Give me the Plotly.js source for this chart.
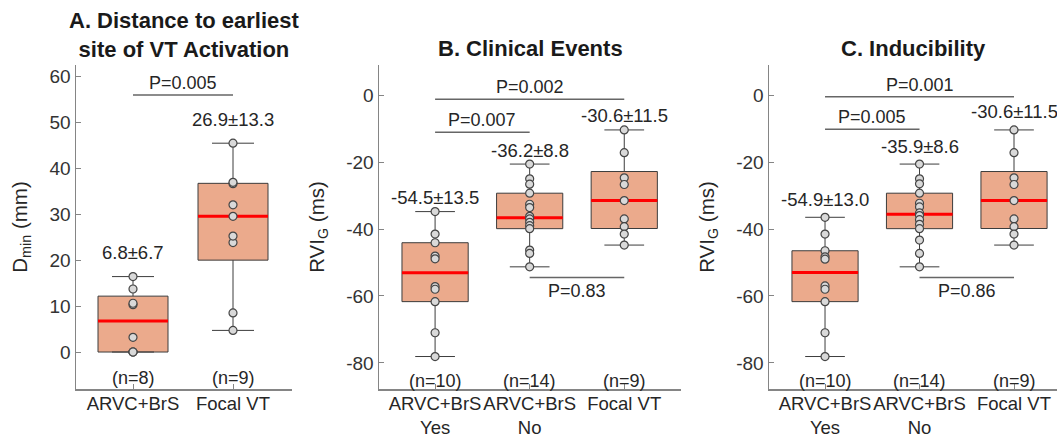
<!DOCTYPE html>
<html><head><meta charset="utf-8">
<script src="https://cdn.plot.ly/plotly-3.0.1.min.js"></script>
<style>html,body{margin:0;padding:0;background:#fff}</style>
</head><body><div id="chart" style="width:1057px;height:440px"></div>
<script>
// ---------------- data ----------------
const catsA = ['ARVC+BrS', 'Focal VT'];
const catsBC = ['ARVC+BrS<br>Yes', 'ARVC+BrS<br>No', 'Focal VT'];

const dminArvc  = [0, 0, 0, 3.2, 10.3, 10.6, 13.7, 16.4];
const dminFocal = [4.7, 8.5, 23.8, 25.2, 29.5, 32.0, 36.6, 36.9, 45.4];

const rviEventsYes = [-34.8, -41.5, -44.1, -48.1, -48.9, -57.2, -58.0, -61.7, -71.0, -78.1];
const rviEventsNo  = [-20.6, -25.0, -26.6, -29.3, -32.6, -33.6, -36.2, -37.0, -38.0, -39.0, -39.9, -46.3, -47.3, -51.3];
const rviInducYes  = [-36.5, -41.5, -46.5, -48.3, -49.0, -57.0, -58.0, -61.7, -71.0, -78.1];
const rviInducNo   = [-20.6, -25.0, -26.5, -29.3, -32.3, -33.4, -35.2, -36.0, -37.2, -38.6, -39.9, -43.3, -47.3, -51.3];
const rviFocal     = [-10.4, -17.2, -24.7, -26.7, -31.5, -37.0, -39.3, -41.5, -44.8];

const statsA = ['6.8±6.7', '26.9±13.3'];
const statsB = ['-54.5±13.5', '-36.2±8.8', '-30.6±11.5'];
const statsC = ['-54.9±13.0', '-35.9±8.6', '-30.6±11.5'];
const countsA = ['(n=8)', '(n=9)'];
const countsBC = ['(n=10)', '(n=14)', '(n=9)'];

const pA = [{from: 1, to: 2, label: 'P=0.005'}];
const pB = [{from: 1, to: 3, label: 'P=0.002'}, {from: 1, to: 2, label: 'P=0.007'}, {from: 2, to: 3, label: 'P=0.83'}];
const pC = [{from: 1, to: 3, label: 'P=0.001'}, {from: 1, to: 2, label: 'P=0.005'}, {from: 2, to: 3, label: 'P=0.86'}];

const ticksA = [0, 10, 20, 30, 40, 50, 60];
const ticksBC = [-80, -60, -40, -20, 0];

// ---------------- layout / style config ----------------
const W = 1057, H = 440;
const FONT = 'Liberation Sans, Arial, Helvetica, sans-serif';
const C_FILL = '#EBAA8C', C_EDGE = '#3c3c3c', C_MED = '#FF0000';
const C_AX = '#858585', C_TXT = '#262626', C_BR = '#666666';
const yDom = [(H - 389) / H, (H - 65) / H];

const panels = [
  {title: 'A. Distance to earliest<br>site of VT Activation', titleY: 35, ytitle: 'D<sub>min</sub> (mm)',
   cats: catsA, groups: [dminArvc, dminFocal], stats: statsA, counts: countsA, pvals: pA,
   pLevels: [55.9], pBelow: [false], statShift: 24, countY: -5.65,
   xd: [76, 292], xr: [0.43, 2.59], yr: [-8.04, 62.4], ticks: ticksA},
  {title: 'B. Clinical Events', titleY: 48, ytitle: 'RVI<sub>G</sub> (ms)',
   cats: catsBC, groups: [rviEventsYes, rviEventsNo, rviFocal], stats: statsB, counts: countsBC, pvals: pB,
   pLevels: [-1.2, -11.1, -54.5], pBelow: [false, false, true], statShift: 14, countY: -85.4,
   xd: [379, 681], xr: [0.407, 3.6], yr: [-87.8, 9.0], ticks: ticksBC},
  {title: 'C. Inducibility', titleY: 48, ytitle: 'RVI<sub>G</sub> (ms)',
   cats: catsBC, groups: [rviInducYes, rviInducNo, rviFocal], stats: statsC, counts: countsBC, pvals: pC,
   pLevels: [-0.5, -10.2, -54.5], pBelow: [false, false, true], statShift: 18, countY: -85.4,
   xd: [769, 1057], xr: [0.407, 3.455], yr: [-87.8, 9.0], ticks: ticksBC}
];

// MATLAB-style quantile
function quant(arr, p) {
  const s = arr.slice().sort((a, b) => a - b), n = s.length;
  const pos = n * p + 0.5;
  if (pos <= 1) return s[0];
  if (pos >= n) return s[n - 1];
  const lo = Math.floor(pos), f = pos - lo;
  return s[lo - 1] + f * (s[lo] - s[lo - 1]);
}
function stats(arr) {
  const q1 = quant(arr, 0.25), med = quant(arr, 0.5), q3 = quant(arr, 0.75);
  const iqr = q3 - q1;
  const inl = arr.filter(v => v >= q1 - 1.5 * iqr && v <= q3 + 1.5 * iqr);
  return {q1, med, q3, lo: Math.min(...inl), hi: Math.max(...inl), max: Math.max(...arr)};
}

const traces = [], annotations = [], shapes = [];
const layout = {
  width: W, height: H, margin: {l: 0, r: 0, t: 0, b: 0},
  paper_bgcolor: '#fff', plot_bgcolor: '#fff', showlegend: false,
  font: {family: FONT, size: 18, color: C_TXT},
  annotations, shapes
};

panels.forEach((P, k) => {
  const sx = k === 0 ? '' : String(k + 1);
  const xa = 'x' + sx, ya = 'y' + sx;
  const pos = P.cats.map((_, i) => i + 1);
  const st = P.groups.map(stats);

  layout['xaxis' + sx] = {
    domain: [P.xd[0] / W, P.xd[1] / W], range: P.xr, anchor: ya,
    tickvals: pos, ticktext: P.cats, ticks: 'inside', ticklen: 5, tickcolor: C_AX, tickwidth: 1,
    showline: true, linecolor: C_AX, linewidth: 1.5, showgrid: false, zeroline: false,
    tickangle: 0, ticklabelstandoff: -3,
    tickfont: {family: FONT, size: 18.5, color: C_TXT}, fixedrange: true
  };
  layout['yaxis' + sx] = {
    domain: yDom, range: P.yr, anchor: xa,
    tickvals: P.ticks, ticktext: P.ticks.map(v => String(v)),
    ticks: 'inside', ticklen: 5, tickcolor: C_AX, tickwidth: 1,
    showline: true, linecolor: C_AX, linewidth: 1.5, showgrid: false, zeroline: false,
    tickfont: {family: FONT, size: 19, color: '#333333'}, fixedrange: true,
    title: {text: P.ytitle, font: {family: FONT, size: 20.5, color: C_TXT}, standoff: 16}
  };

  traces.push({
    type: 'box', xaxis: xa, yaxis: ya, x: pos,
    q1: st.map(s => s.q1), median: st.map(s => s.med), q3: st.map(s => s.q3),
    lowerfence: st.map(s => s.lo), upperfence: st.map(s => s.hi),
    width: 0.7, whiskerwidth: 0.6, fillcolor: C_FILL, line: {color: C_EDGE, width: 1},
    boxpoints: false, hoverinfo: 'skip'
  });
  traces.push({
    type: 'box', xaxis: xa, yaxis: ya, x: pos,
    q1: st.map(s => s.med), median: st.map(s => s.med), q3: st.map(s => s.med),
    lowerfence: st.map(s => s.med), upperfence: st.map(s => s.med),
    width: 0.7, whiskerwidth: 0, fillcolor: 'rgba(0,0,0,0)', line: {color: C_MED, width: 3},
    boxpoints: false, hoverinfo: 'skip'
  });
  const px = [], py = [];
  P.groups.forEach((g, i) => g.forEach(v => { px.push(i + 1); py.push(v); }));
  traces.push({
    type: 'scatter', mode: 'markers', xaxis: xa, yaxis: ya, x: px, y: py,
    marker: {size: 8, color: '#d9d9d9', line: {color: '#454545', width: 1.2}},
    hoverinfo: 'skip'
  });

  // title
  annotations.push({
    xref: xa, yref: 'paper', x: (P.xr[0] + P.xr[1]) / 2, y: 1 - P.titleY / H,
    yanchor: 'middle', xanchor: 'center', showarrow: false, text: '<b>' + P.title + '</b>',
    font: {family: FONT, size: 22, color: '#1a1a1a'}
  });
  // mean ± sd and counts
  st.forEach((s, i) => {
    annotations.push({xref: xa, yref: ya, x: i + 1, y: s.max, yshift: P.statShift, yanchor: 'middle',
      showarrow: false, text: P.stats[i], font: {family: FONT, size: 18.5, color: C_TXT}});
    annotations.push({xref: xa, yref: ya, x: i + 1, y: P.countY, yanchor: 'middle',
      showarrow: false, text: P.counts[i], font: {family: FONT, size: 18, color: C_TXT}});
  });
  // p-value brackets
  P.pvals.forEach((pv, j) => {
    const lvl = P.pLevels[j], below = P.pBelow[j];
    shapes.push({type: 'line', xref: xa, yref: ya, x0: pv.from, x1: pv.to, y0: lvl, y1: lvl,
      line: {color: C_BR, width: 1.5}});
    annotations.push({xref: xa, yref: ya, x: (pv.from + pv.to) / 2, y: lvl,
      yanchor: below ? 'top' : 'bottom', yshift: below ? -1 : 0, showarrow: false,
      text: pv.label, font: {family: FONT, size: 18, color: C_TXT}});
  });
});

Plotly.newPlot('chart', traces, layout, {staticPlot: true, displayModeBar: false});
</script></body></html>
